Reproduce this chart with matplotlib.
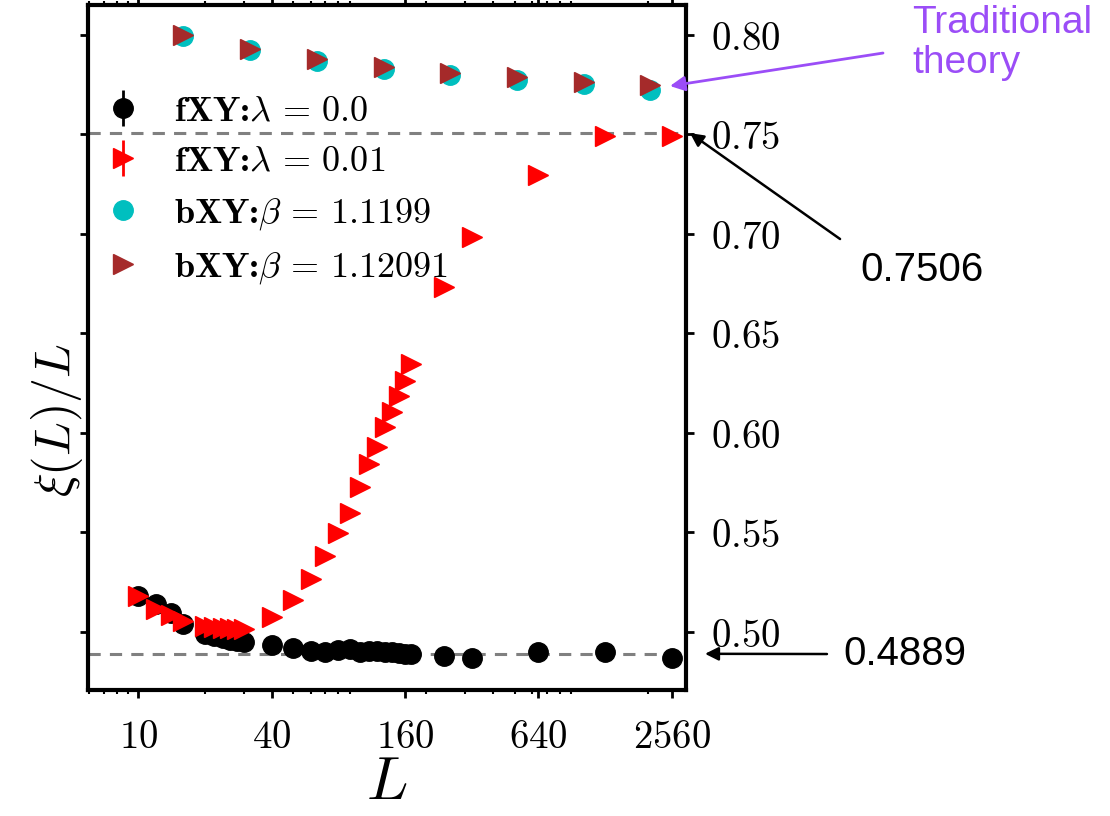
import matplotlib
matplotlib.use("Agg")
import matplotlib.pyplot as plt
from matplotlib.ticker import FixedLocator, LogLocator, NullFormatter

plt.rcParams["mathtext.fontset"] = "cm"

# fXY, lambda = 0.0
L_f0 = [10, 12, 14, 16, 20, 22, 24, 26, 28, 30, 40, 50, 60, 70, 80, 90, 100,
        110, 120, 130, 140, 150, 160, 170, 240, 320, 640, 1280, 2560]
xi_f0 = [0.5180, 0.5138, 0.5096, 0.5037, 0.4990, 0.4978, 0.4968, 0.4960,
         0.4955, 0.4950, 0.4933, 0.4919, 0.4902, 0.4897, 0.4907, 0.4911,
         0.4897, 0.4902, 0.4902, 0.4897, 0.4900, 0.4895, 0.4890, 0.4888,
         0.4877, 0.4869, 0.4899, 0.4897, 0.4869]

# fXY, lambda = 0.01
L_f1 = [10, 12, 14, 16, 20, 22, 24, 26, 28, 30, 40, 50, 60, 70, 80, 90, 100,
        110, 120, 130, 140, 150, 160, 170, 240, 320, 640, 1280, 2560]
xi_f1 = [0.5177, 0.5113, 0.5082, 0.5054, 0.5029, 0.5025, 0.5020, 0.5018,
         0.5015, 0.5012, 0.5076, 0.5160, 0.5264, 0.5379, 0.5495, 0.5598,
         0.5727, 0.5842, 0.5926, 0.6030, 0.6106, 0.6187, 0.6258, 0.6345,
         0.6732, 0.6986, 0.7293, 0.7490, 0.7490]

# bXY at two couplings
L_b = [16, 32, 64, 128, 256, 512, 1024, 2048]
xi_b1 = [0.7992, 0.7925, 0.7870, 0.7830, 0.7800, 0.7775, 0.7755, 0.7725]
xi_b2 = [0.8000, 0.7928, 0.7879, 0.7840, 0.7810, 0.7786, 0.7764, 0.7747]

err = 0.0005
fixed_pts = [0.7506, 0.4889]

x_ticks = [10, 40, 160, 640, 2560]
y_ticks = [0.50, 0.55, 0.60, 0.65, 0.70, 0.75, 0.80]

fig = plt.figure(figsize=(11.1, 8.16), dpi=100)
ax = fig.add_axes([0.0793, 0.1544, 0.5387, 0.8395])

for v in fixed_pts:
    ax.axhline(v, color="gray", ls="--", lw=2.2, dashes=(4, 3), zorder=1)

h1 = ax.errorbar(L_f0, xi_f0, yerr=err, fmt="o", color="black", ms=14,
                 elinewidth=2, capsize=0, label=r"fXY:$\lambda\,=\,0.0$", zorder=3)
h2 = ax.errorbar(L_f1, xi_f1, yerr=err, fmt=">", color="red", ms=15,
                 elinewidth=2, capsize=0, label=r"fXY:$\lambda\,=\,0.01$", zorder=4)
h3, = ax.plot(L_b, xi_b1, "o", color="c", ms=14, ls="none",
              label=r"bXY:$\beta\,=\,1.1199$", zorder=3)
h4, = ax.plot(L_b, xi_b2, ">", color="brown", ms=15, ls="none",
              label=r"bXY:$\beta\,=\,1.12091$", zorder=4)

ax.set_xscale("log")
ax.set_xlim(5.93, 2970)
ax.set_ylim(0.4707, 0.815)

ax.xaxis.set_major_locator(FixedLocator(x_ticks))
ax.set_xticklabels([f"${t}$" for t in x_ticks])
ax.xaxis.set_minor_locator(LogLocator(base=10, subs=range(2, 10)))
ax.xaxis.set_minor_formatter(NullFormatter())
ax.set_yticks(y_ticks)
ax.set_yticklabels([f"${t:.2f}$" for t in y_ticks])

ax.tick_params(axis="both", which="major", direction="out", length=6, width=2,
               labelsize=28, top=True, right=True)
ax.tick_params(axis="both", which="minor", direction="out", length=3, width=1.5,
               top=True, right=True)
ax.tick_params(axis="y", labelleft=False, labelright=True, pad=12)
ax.tick_params(axis="x", pad=14)
for s in ax.spines.values():
    s.set_linewidth(3)

ax.set_xlabel(r"$L$", fontsize=44, labelpad=-2)
ax.set_ylabel(r"$\xi(L)/L$", fontsize=36)
ax.yaxis.set_label_coords(-0.005, 0.394)

ax.legend(handles=[h1, h2, h3, h4], loc="upper left", bbox_to_anchor=(-0.02, 0.905),
          frameon=False, prop={"family": "cmb10", "size": 26},
          handlelength=1.2, handletextpad=0.8, labelspacing=0.5,
          borderaxespad=0.3)

# annotations outside the axes
sans = "Liberation Sans"
purple = "#9b4df7"
ax.annotate("", xy=(0.6036, 0.8946), xycoords="figure fraction",
            xytext=(0.7955, 0.935), textcoords="figure fraction",
            arrowprops=dict(arrowstyle="-|>", color=purple, lw=2,
                            mutation_scale=22, shrinkA=0, shrinkB=0))
fig.text(0.8216, 0.994, "Traditional\ntheory", color=purple, fontsize=28,
         family=sans, va="top", ha="left", linespacing=1.15)

ax.annotate("", xy=(1.0067, fixed_pts[0]), xycoords=("axes fraction", "data"),
            xytext=(0.7568, 0.7071), textcoords="figure fraction",
            arrowprops=dict(arrowstyle="-|>", color="black", lw=1.8,
                            mutation_scale=20, shrinkA=0, shrinkB=0))
fig.text(0.7748, 0.669, "0.7506", fontsize=29, family=sans, va="center", ha="left")

ax.annotate("", xy=(1.0318, fixed_pts[1]), xycoords=("axes fraction", "data"),
            xytext=(0.745, 0.1985), textcoords="figure fraction",
            arrowprops=dict(arrowstyle="-|>", color="black", lw=1.8,
                            mutation_scale=20, shrinkA=0, shrinkB=0))
fig.text(0.7595, 0.1985, "0.4889", fontsize=29, family=sans, va="center", ha="left")

fig.savefig("out.png", dpi=100)
